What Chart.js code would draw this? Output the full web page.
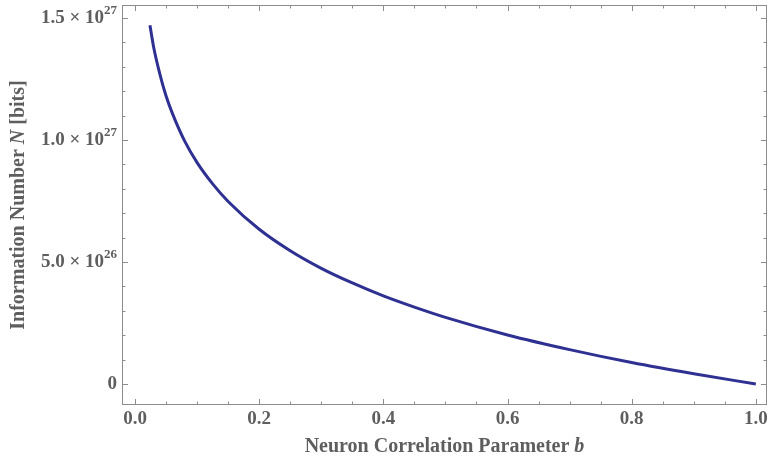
<!DOCTYPE html>
<html>
<head>
<meta charset="utf-8">
<script src="https://cdn.jsdelivr.net/npm/chart.js@4"></script>
<style>
  html, body { margin: 0; padding: 0; background: #fff; }
  #wrap { width: 769px; height: 462px; }
</style>
</head>
<body>
<div id="wrap"><canvas id="infoChart" width="769" height="462"></canvas></div>
<script>
// correlation parameter b and information number N
const bValues = [0.024, 0.03, 0.04, 0.05, 0.06, 0.08, 0.10, 0.125, 0.15, 0.20, 0.25, 0.30, 0.35, 0.40, 0.45, 0.50, 0.60, 0.70, 0.80, 0.90, 1.00];
const nValues = [14.7e26, 13.8e26, 12.7e26, 11.8e26, 11.1e26, 9.95e26, 9.07e26, 8.2e26, 7.48e26, 6.34e26, 5.46e26, 4.74e26, 4.14e26, 3.61e26, 3.15e26, 2.73e26, 2.01e26, 1.41e26, 0.88e26, 0.42e26, 0.0];

const xTicks = [0, 0.2, 0.4, 0.6, 0.8, 1.0];
const xTickLabels = ["0.0", "0.2", "0.4", "0.6", "0.8", "1.0"];
const xMinor = [0.05, 0.1, 0.15, 0.25, 0.3, 0.35, 0.45, 0.5, 0.55, 0.65, 0.7, 0.75, 0.85, 0.9, 0.95];
const yTicks = [0, 5e26, 1e27, 1.5e27];
const yTickMant = ["0", "5.0", "1.0", "1.5"];
const yTickExp = ["", "26", "27", "27"];
const yMinor = [1e26, 2e26, 3e26, 4e26, 6e26, 7e26, 8e26, 9e26, 11e26, 12e26, 13e26, 14e26];

const textColor = "#5e5e5e";
const serif = "'Liberation Serif', 'Times New Roman', serif";

const frameTicks = {
  id: "frameTicks",
  beforeDatasetsDraw(chart) {
    const { ctx, chartArea: a, scales: { x, y } } = chart;
    ctx.save();
    ctx.strokeStyle = "#8c8c8c";
    ctx.lineWidth = 1;
    ctx.strokeRect(a.left + 0.5, a.top + 0.5, a.right - a.left - 1, a.bottom - a.top - 1);

    ctx.beginPath();
    const vtick = (v, len) => {
      const px = Math.round(x.getPixelForValue(v)) + 0.5;
      ctx.moveTo(px, a.bottom); ctx.lineTo(px, a.bottom - len);
      ctx.moveTo(px, a.top); ctx.lineTo(px, a.top + len);
    };
    const htick = (v, len) => {
      const py = Math.round(y.getPixelForValue(v)) + 0.5;
      ctx.moveTo(a.left, py); ctx.lineTo(a.left + len, py);
      ctx.moveTo(a.right, py); ctx.lineTo(a.right - len, py);
    };
    xTicks.forEach(v => vtick(v, 6));
    xMinor.forEach(v => vtick(v, 3.5));
    yTicks.forEach(v => htick(v, 6));
    yMinor.forEach(v => htick(v, 3.5));
    ctx.stroke();

    // x tick labels
    ctx.fillStyle = textColor;
    ctx.font = "bold 19px " + serif;
    ctx.textAlign = "center";
    ctx.textBaseline = "middle";
    xTicks.forEach((v, i) => ctx.fillText(xTickLabels[i], x.getPixelForValue(v), a.bottom + 14));

    // y tick labels with superscript exponent
    const rightEdge = a.left - 5;
    yTicks.forEach((v, i) => {
      const py = y.getPixelForValue(v);
      const mant = yTickMant[i];
      ctx.textBaseline = "middle";
      ctx.textAlign = "left";
      if (!yTickExp[i]) {
        ctx.font = "bold 19px " + serif;
        const w = ctx.measureText(mant).width;
        ctx.fillText(mant, rightEdge - w, py);
        return;
      }
      const main = mant + " \u00d7 10";
      ctx.font = "bold 13px " + serif;
      const we = ctx.measureText(yTickExp[i]).width;
      ctx.font = "bold 19px " + serif;
      const wm = ctx.measureText(main).width;
      const x0 = rightEdge - we - wm;
      ctx.fillText(main, x0, py);
      ctx.font = "bold 13px " + serif;
      ctx.fillText(yTickExp[i], x0 + wm, py - 7);
    });

    // axis titles with italic symbols
    const drawParts = (parts, cx, cy) => {
      let total = 0;
      parts.forEach(p => { ctx.font = p[1] + " 20px " + serif; total += ctx.measureText(p[0]).width; });
      let px = cx - total / 2;
      ctx.textAlign = "left";
      ctx.textBaseline = "middle";
      parts.forEach(p => {
        ctx.font = p[1] + " 20px " + serif;
        ctx.fillText(p[0], px, cy);
        px += ctx.measureText(p[0]).width;
      });
    };
    drawParts([["Neuron Correlation Parameter ", "bold"], ["b", "italic bold"]], (a.left + a.right) / 2, 447);
    ctx.save();
    ctx.translate(19, (a.top + a.bottom) / 2);
    ctx.rotate(-Math.PI / 2);
    drawParts([["Information Number ", "bold"], ["N", "italic bold"], [" [bits]", "bold"]], 0, 0);
    ctx.restore();
    ctx.restore();
  }
};

const points = bValues.map((b, i) => ({ x: b, y: nValues[i] }));

new Chart(document.getElementById("infoChart").getContext("2d"), {
  type: "line",
  data: {
    datasets: [{
      data: points,
      borderColor: "#2e3192",
      borderWidth: 3,
      pointRadius: 0,
      fill: false,
      cubicInterpolationMode: "monotone"
    }]
  },
  options: {
    responsive: false,
    animation: false,
    layout: { padding: { top: 5, right: 2, left: 0, bottom: 0 } },
    plugins: { legend: { display: false }, tooltip: { enabled: false } },
    scales: {
      x: {
        type: "linear",
        min: -0.021,
        max: 1.018,
        grid: { display: false },
        border: { display: false },
        ticks: { display: false },
        afterFit(scale) { scale.height = 57; }
      },
      y: {
        min: -0.86e26,
        max: 15.53e26,
        grid: { display: false },
        border: { display: false },
        ticks: { display: false },
        afterFit(scale) { scale.width = 122; }
      }
    }
  },
  plugins: [frameTicks]
});
</script>
</body>
</html>
